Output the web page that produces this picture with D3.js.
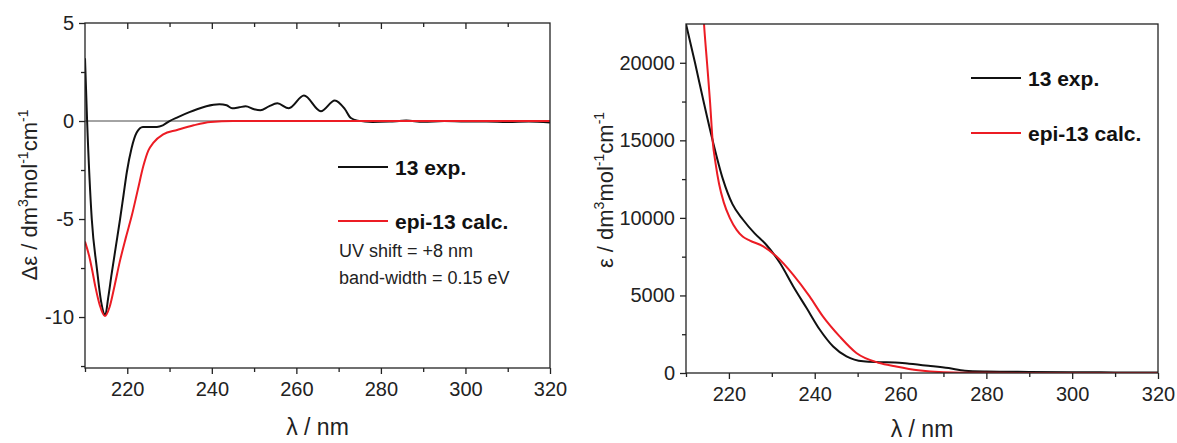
<!DOCTYPE html>
<html>
<head>
<meta charset="utf-8">
<script src="https://cdn.jsdelivr.net/npm/d3@7"></script>
<style>
  body { margin: 0; background: #fff; }
  svg { font-family: "Liberation Sans", Arial, sans-serif; }
</style>
</head>
<body>
<svg width="1177" height="443"></svg>
<script>
// ECD spectrum (left panel)
var cdExpX = [210, 210.5, 211.6, 212.8, 213.8, 214.8, 215.5, 216.3, 217.3, 218.3, 219.1, 219.9, 221, 222.2, 223.7, 225.3, 227, 228.4, 230, 232, 234.7, 236.5, 238.7, 241.8, 243.5, 244.8, 246.5, 248, 250, 251.5, 253.5, 255.5, 258.2, 261.8, 265.8, 269.1, 271.5, 272.9, 274.5, 278, 282, 286, 290, 295, 300, 305, 310, 315, 320];
var cdExpY = [3.2, 0, -5, -7.5, -9.2, -9.9, -9.0, -7.8, -6.4, -5.0, -3.8, -2.6, -1.4, -0.6, -0.3, -0.3, -0.3, -0.22, 0, 0.2, 0.45, 0.6, 0.75, 0.85, 0.8, 0.65, 0.7, 0.75, 0.6, 0.55, 0.75, 0.9, 0.65, 1.3, 0.5, 1.05, 0.6, 0.15, 0.02, -0.05, -0.03, 0.02, -0.04, 0.0, -0.03, -0.02, -0.05, -0.03, -0.07];
var cdCalcX = [210, 211, 211.6, 212.5, 213.5, 214.7, 215.8, 217, 218.2, 219.6, 221.1, 222.5, 223.8, 225, 226.2, 228.5, 231.8, 235.7, 239.7, 245, 250, 260, 280, 300, 320];
var cdCalcY = [-6.15, -6.9, -7.5, -8.5, -9.4, -9.95, -9.5, -8.4, -7.2, -6.0, -4.8, -3.5, -2.3, -1.5, -1.1, -0.68, -0.46, -0.22, -0.05, 0, 0, 0, 0, 0, 0];

// UV spectrum (right panel)
var uvExpX = [210, 212.1, 214.1, 216.2, 218.6, 220.8, 223.3, 226, 228.7, 231.9, 235, 238.1, 241.2, 244.3, 247.4, 251.3, 255, 258.7, 262, 266.5, 271.2, 275, 280, 290, 300, 310, 320];
var uvExpY = [22500, 20000, 17500, 15000, 12500, 10900, 9880, 9000, 8270, 7090, 5580, 4190, 2790, 1710, 1070, 750, 700, 680, 600, 470, 320, 150, 100, 70, 50, 40, 30];
var uvCalcX = [213.5, 214.2, 214.9, 215.6, 216.2, 216.9, 217.7, 218.8, 220.2, 221.8, 223.2, 224.9, 228, 231.1, 235, 238.8, 241.9, 245.8, 249.7, 255.1, 258.7, 264.1, 270, 280, 300, 320];
var uvCalcY = [26000, 22500, 20000, 17500, 15000, 13500, 12200, 11000, 10000, 9230, 8800, 8540, 8160, 7510, 6330, 4940, 3650, 2360, 1290, 640, 430, 170, 50, 10, 0, 0];

var xTicks = [220, 240, 260, 280, 300, 320];
var xMinor = [210, 230, 250, 270, 290, 310];
var cdTicks = [5, 0, -5, -10];
var cdMinor = [2.5, -2.5, -7.5, -12.5];
var uvTicks = [0, 5000, 10000, 15000, 20000];
var uvMinor = [2500, 7500, 12500, 17500];

var legendNames = ['13 exp.', 'epi-13 calc.'];
var red = '#ec1c24', black = '#111';

var svg = d3.select('svg');

function zip(xs, ys) { return xs.map(function(x, i) { return [x, ys[i]]; }); }
function plain(d) { return String(d); }

function panel(opt) {
  var x = d3.scaleLinear().domain([210, 320]).range([opt.left, opt.right]);
  var y = d3.scaleLinear().domain(opt.yDomain).range([opt.bottom, opt.top]);
  var g = svg.append('g');
  var clipId = 'clip' + opt.id;
  g.append('clipPath').attr('id', clipId).append('rect')
    .attr('x', opt.left).attr('y', opt.top)
    .attr('width', opt.right - opt.left).attr('height', opt.bottom - opt.top);

  var plot = g.append('g').attr('clip-path', 'url(#' + clipId + ')');
  if (opt.zeroLine) {
    plot.append('line').attr('x1', opt.left).attr('x2', opt.right)
      .attr('y1', y(0)).attr('y2', y(0)).attr('stroke', '#333').attr('stroke-width', 0.9);
  }
  var line = d3.line().x(function(d) { return x(d[0]); }).y(function(d) { return y(d[1]); })
    .curve(d3.curveMonotoneX);
  plot.append('path').datum(opt.exp).attr('d', line)
    .attr('fill', 'none').attr('stroke', black).attr('stroke-width', 2);
  plot.append('path').datum(opt.calc).attr('d', line)
    .attr('fill', 'none').attr('stroke', red).attr('stroke-width', 2);

  // frame
  g.append('rect').attr('x', opt.left).attr('y', opt.top)
    .attr('width', opt.right - opt.left).attr('height', opt.bottom - opt.top)
    .attr('fill', 'none').attr('stroke', '#222').attr('stroke-width', 1.3);

  // bottom axis
  g.append('g').attr('transform', 'translate(0,' + opt.bottom + ')')
    .call(d3.axisBottom(x).tickValues(xTicks).tickSize(6).tickPadding(8).tickFormat(plain));
  g.append('g').attr('transform', 'translate(0,' + opt.bottom + ')')
    .call(d3.axisBottom(x).tickValues(xMinor).tickSize(4).tickFormat(''));
  // left axis
  g.append('g').attr('transform', 'translate(' + opt.left + ',0)')
    .call(d3.axisLeft(y).tickValues(opt.yTicks).tickSize(6).tickPadding(5).tickFormat(plain));
  g.append('g').attr('transform', 'translate(' + opt.left + ',0)')
    .call(d3.axisLeft(y).tickValues(opt.yMinor.filter(function(v) { return v >= opt.yDomain[0]; })).tickSize(4).tickFormat(''));
  if (opt.topTicks) {
    g.append('g').attr('transform', 'translate(0,' + opt.top + ')')
      .call(d3.axisBottom(x).tickValues(xTicks.slice(0, 5)).tickSize(6).tickFormat(''));
    g.append('g').attr('transform', 'translate(0,' + opt.top + ')')
      .call(d3.axisBottom(x).tickValues(xMinor.slice(1)).tickSize(4).tickFormat(''));
  }
  g.selectAll('.domain').remove();
  g.selectAll('.tick line').attr('stroke', '#222').attr('stroke-width', 1.3);
  g.selectAll('.tick text').attr('font-size', 20).attr('fill', '#222')
    .attr('font-family', '"Liberation Sans", Arial, sans-serif');

  // titles
  g.append('text').attr('x', (opt.left + opt.right) / 2).attr('y', opt.xTitleY)
    .attr('text-anchor', 'middle').attr('font-size', 23).attr('fill', '#222').text('λ / nm');
  var yt = g.append('text').attr('transform', 'translate(' + opt.yTitleX + ',' + opt.yTitleY + ') rotate(-90)')
    .attr('text-anchor', 'middle').attr('font-size', 22).attr('fill', '#222');
  yt.append('tspan').text(opt.yTitle + ' / dm');
  yt.append('tspan').attr('font-size', 14).attr('dy', -9).text('3');
  yt.append('tspan').attr('dy', 9).text('mol');
  yt.append('tspan').attr('font-size', 14).attr('dy', -9).text('-1');
  yt.append('tspan').attr('dy', 9).text('cm');
  yt.append('tspan').attr('font-size', 14).attr('dy', -9).text('-1');

  // legend
  [black, red].forEach(function(c, i) {
    var ly = opt.legY[i];
    g.append('line').attr('x1', opt.legX).attr('x2', opt.legX + 50)
      .attr('y1', ly).attr('y2', ly).attr('stroke', c).attr('stroke-width', 2.2);
    g.append('text').attr('x', opt.legX + 57).attr('y', ly + 8)
      .attr('font-size', 21).attr('font-weight', 'bold').attr('fill', '#111').text(legendNames[i]);
  });
  return g;
}

var left = panel({
  id: 'L', left: 85, right: 550, top: 23, bottom: 368,
  yDomain: [-12.6, 5], yTicks: cdTicks, yMinor: cdMinor,
  exp: zip(cdExpX, cdExpY), calc: zip(cdCalcX, cdCalcY),
  zeroLine: true, topTicks: true, xTitleY: 435,
  yTitle: 'Δε', yTitleX: 37, yTitleY: 195,
  legX: 338, legY: [167, 221]
});
left.append('text').attr('x', 339).attr('y', 257).attr('font-size', 18).attr('fill', '#222').text('UV shift = +8 nm');
left.append('text').attr('x', 339).attr('y', 284).attr('font-size', 18).attr('fill', '#222').text('band-width = 0.15 eV');

panel({
  id: 'R', left: 686, right: 1158, top: 24, bottom: 373,
  yDomain: [0, 22500], yTicks: uvTicks, yMinor: uvMinor,
  exp: zip(uvExpX, uvExpY), calc: zip(uvCalcX, uvCalcY),
  zeroLine: false, topTicks: false, xTitleY: 437,
  yTitle: 'ε', yTitleX: 613, yTitleY: 190,
  legX: 971, legY: [78, 133]
});
</script>
</body>
</html>
